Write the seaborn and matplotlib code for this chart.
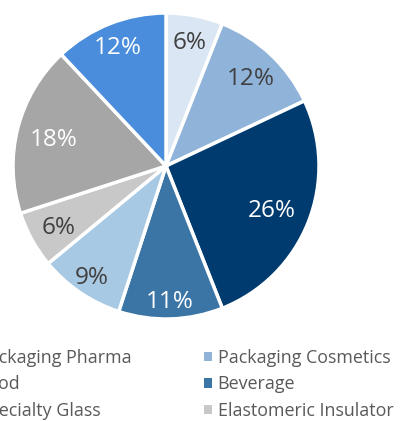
import matplotlib
matplotlib.use("Agg")
import numpy as np
import matplotlib.pyplot as plt
from matplotlib.patches import Patch
import seaborn as sns

# share of sales by segment, clockwise from 12 o'clock
segments = ["Packaging Pharma", "Packaging Cosmetics", "Food", "Beverage",
            "Specialty Glass", "Elastomeric Insulator", "Segment 7", "Segment 8"]
shares = [6, 12, 26, 11, 9, 6, 18, 12]
colors = ["#dae6f3", "#8fb3d9", "#003b6f", "#3a75a5",
          "#a8c9e4", "#c8c8c8", "#a6a6a6", "#4a8ddc"]
label_colors = ["#404040", "#404040", "white", "white",
                "#404040", "#404040", "white", "white"]
legend_count = 6  # only the first three legend rows fit in the frame

sns.set_theme(style="white")
plt.rcParams["font.family"] = ["Open Sans", "DejaVu Sans"]

fig = plt.figure(figsize=(4.06, 4.21), dpi=100)
W, H = 406, 421
cx, cy, r = 166, 166, 153
ax = fig.add_axes([(cx - r) / W, (H - cy - r) / H, 2 * r / W, 2 * r / H])

wedges, texts, autotexts = ax.pie(
    shares, colors=colors, startangle=90, counterclock=False,
    autopct=lambda p: f"{p:.0f}%", pctdistance=0.8, radius=1,
    wedgeprops=dict(edgecolor="white", linewidth=2.5),
    textprops=dict(fontsize=17.5))

# "best fit" style label placement, slightly different distance per slice
label_dist = [0.84, 0.81, 0.74, 0.87, 0.86, 0.80, 0.76, 0.85]
for w, t, c, d in zip(wedges, autotexts, label_colors, label_dist):
    mid = np.deg2rad((w.theta1 + w.theta2) / 2)
    t.set_position((d * np.cos(mid), d * np.sin(mid) - 0.02))
    t.set_color(c)
ax.set_xlim(-1, 1)
ax.set_ylim(-1, 1)
ax.set_aspect("equal")
ax.axis("off")

# legend reads row by row (left, right); matplotlib fills column-wise
order = list(range(0, legend_count, 2)) + list(range(1, legend_count, 2))
handles = [Patch(facecolor=colors[i], edgecolor="none") for i in order]
labels = [segments[i] for i in order]
leg = fig.legend(handles, labels, ncol=2, loc="upper left",
                 bbox_to_anchor=(-35 / W, 1 - 349 / H), frameon=False,
                 prop=dict(size=12.9), labelcolor="#595959",
                 handlelength=0.4, handleheight=0.4, handletextpad=0.34,
                 columnspacing=4.05, labelspacing=0.47, borderpad=0,
                 borderaxespad=0)

fig.savefig("out.png", dpi=100)
